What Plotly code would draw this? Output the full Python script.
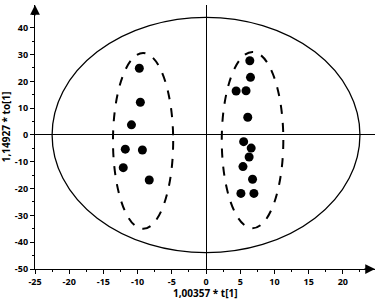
import plotly.graph_objects as go

# Data
left_x = [-9.75, -9.6, -10.9, -11.8, -9.3, -12.1, -8.3]
left_y = [24.9, 12.2, 3.8, -5.3, -5.6, -12.2, -16.8]
right_x = [6.4, 6.5, 4.4, 5.85, 6.1, 5.5, 6.6, 6.3, 5.4, 6.8, 5.1, 7.0]
right_y = [27.7, 21.5, 16.4, 16.5, 6.6, -2.5, -4.9, -8.2, -11.8, -16.5, -21.8, -21.8]

x_ticks = [-25, -20, -15, -10, -5, 0, 5, 10, 15, 20]
y_ticks = [-50, -40, -30, -20, -10, 0, 10, 20, 30, 40]

x_title = "1,00357 * t[1]"
y_title = "1,14927 * to[1]"

# Hotelling T2 ellipse and group ellipses (center x, center y, half-width, half-height)
big_ellipse = (0.0, 0.0, 22.5, 43.9)
group_ellipses = [(-9.2, -2.2, 4.4, 32.8), (6.8, -1.9, 4.5, 32.9)]

x_range = [-25, 24.7]
y_range = [-50, 48.5]

fig = go.Figure()
fig.add_trace(go.Scatter(x=left_x + right_x, y=left_y + right_y, mode="markers",
                         marker=dict(color="black", size=9), showlegend=False,
                         hoverinfo="skip"))

shapes = []
cx, cy, a, b = big_ellipse
shapes.append(dict(type="circle", xref="x", yref="y", x0=cx - a, x1=cx + a, y0=cy - b, y1=cy + b,
                   line=dict(color="black", width=1.3)))
for cx, cy, a, b in group_ellipses:
    shapes.append(dict(type="circle", xref="x", yref="y", x0=cx - a, x1=cx + a, y0=cy - b, y1=cy + b,
                       line=dict(color="black", width=2, dash="dash")))

tickfont = dict(family="Open Sans", size=9, color="black", weight="bold")
titlefont = dict(family="Open Sans", size=10, color="black", weight="bold")

fig.update_layout(
    width=378, height=300,
    margin=dict(l=35, r=3, t=5, b=31),
    plot_bgcolor="white", paper_bgcolor="white",
    shapes=shapes,
    xaxis=dict(range=x_range, tickvals=x_ticks, ticktext=[str(v) for v in x_ticks],
               automargin=False,
               showgrid=False, zeroline=True, zerolinecolor="black", zerolinewidth=1.3,
               showline=True, linecolor="black", linewidth=1.3,
               ticks="outside", ticklen=4, tickcolor="black", tickwidth=1,
               minor=dict(dtick=2.5, tick0=0, ticks="outside", ticklen=2, tickcolor="black"),
               tickfont=tickfont),
    yaxis=dict(range=y_range, tickvals=y_ticks, ticktext=[str(v) for v in y_ticks],
               automargin=False,
               showgrid=False, zeroline=True, zerolinecolor="black", zerolinewidth=1.3,
               showline=True, linecolor="black", linewidth=1.3,
               ticks="outside", ticklen=4, tickcolor="black", tickwidth=1,
               minor=dict(dtick=5, tick0=0, ticks="outside", ticklen=2, tickcolor="black"),
               tickfont=tickfont),
    annotations=[
        dict(x=-25, y=y_range[1], xref="x", yref="y", ax=0, ay=12, axref="pixel", ayref="pixel",
             showarrow=True, arrowhead=2, arrowsize=1.5, arrowwidth=1.3, arrowcolor="black", text=""),
        dict(x=x_range[1], y=-50, xref="x", yref="y", ax=-12, ay=0, axref="pixel", ayref="pixel",
             showarrow=True, arrowhead=2, arrowsize=1.5, arrowwidth=1.3, arrowcolor="black", text=""),
        dict(text=x_title, xref="paper", yref="paper", x=0.5, y=-0.092, showarrow=False,
             xanchor="center", yanchor="middle", font=titlefont, borderpad=0),
        dict(text=y_title, xref="paper", yref="paper", x=-0.083, y=0.54, showarrow=False,
             textangle=-90, xanchor="center", yanchor="middle", font=titlefont, borderpad=0),
    ],
)

fig.write_html("out.html", config={"displayModeBar": False},
               post_script="document.body.style.margin='0';")
